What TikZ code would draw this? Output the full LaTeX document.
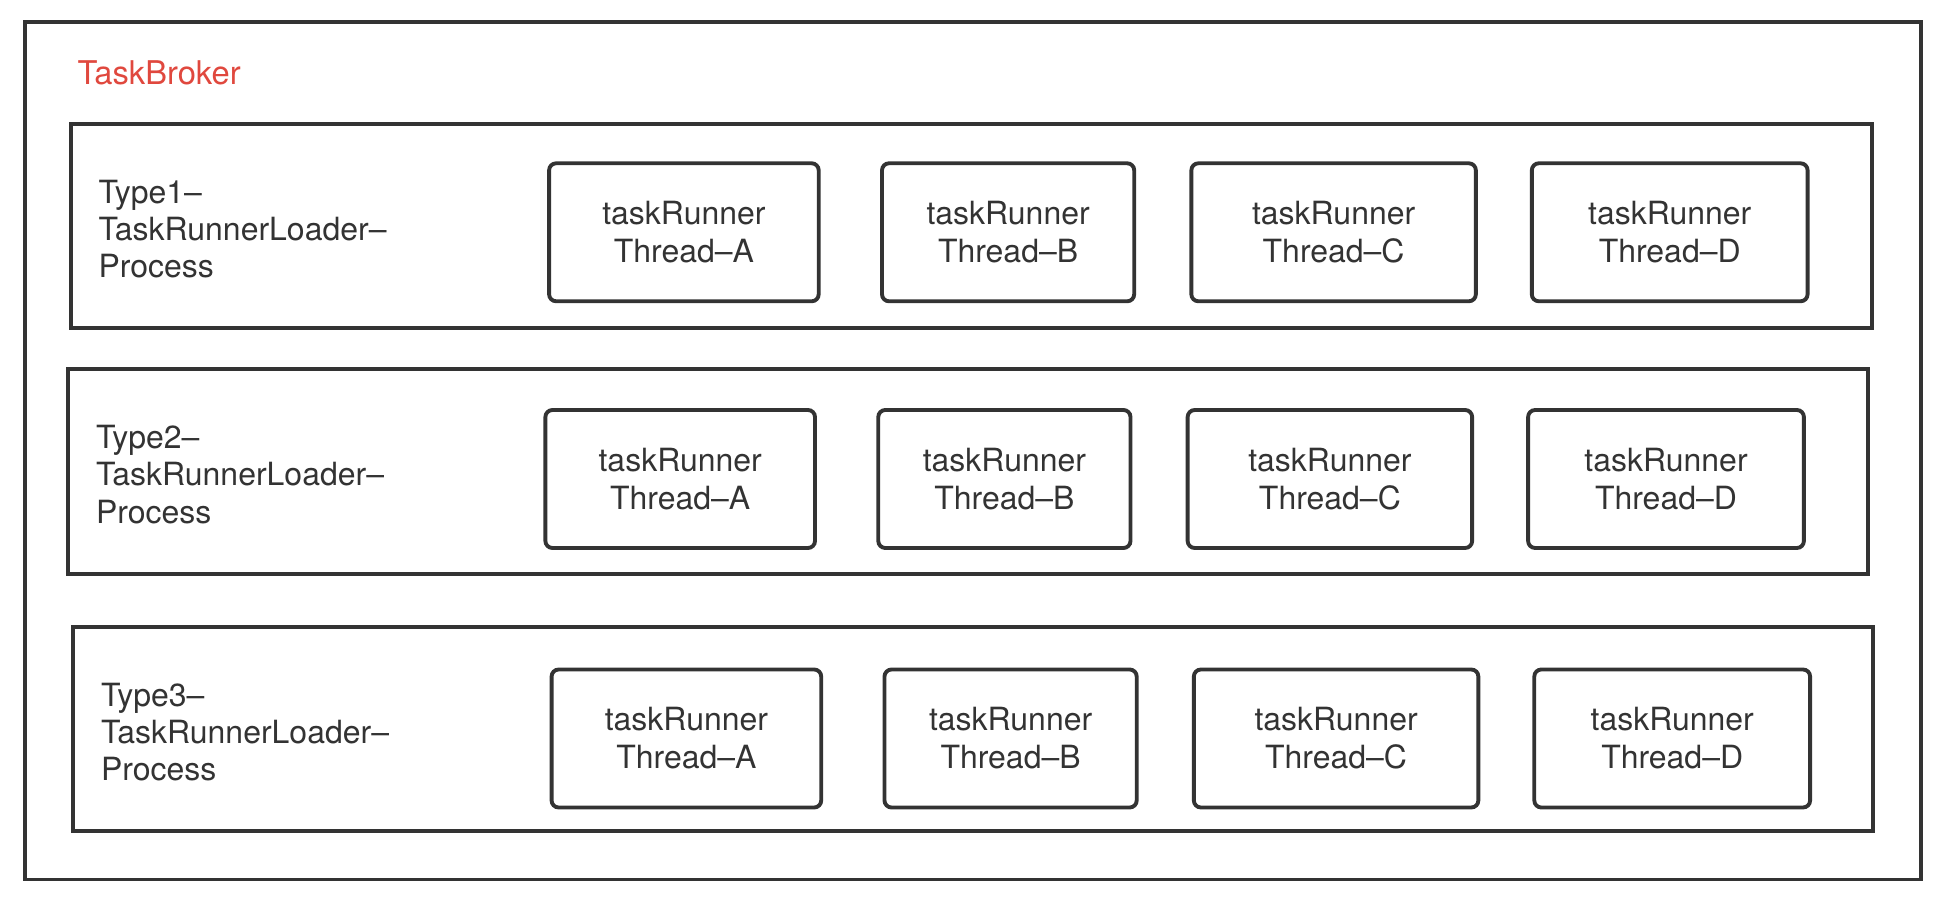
\documentclass[tikz,border=0pt]{standalone}
\usepackage{fontspec}
\setmainfont{TeX Gyre Heros}
\usepackage{tikz}
\usetikzlibrary{positioning,calc}
\definecolor{edge}{HTML}{333333}
\definecolor{brokerred}{HTML}{E0483E}
\tikzset{
  frame/.style={draw=edge, line width=1.1pt},
  runner/.style={draw=edge, line width=1.1pt, rounded corners=2pt, minimum height=1.38cm,
    align=center, inner sep=0pt, text=edge, font=\fontsize{9.1}{10.8}\selectfont},
  typelabel/.style={anchor=west, align=left, inner sep=0pt, text=edge, font=\fontsize{9.1}{10.6}\selectfont}
}
\begin{document}
\begin{tikzpicture}
\useasboundingbox (0,0) rectangle (19.48,9.06);
\draw[frame] (0.25,0.265) rectangle (19.21,8.84);
\node[anchor=west, inner sep=0pt, text=brokerred, font=\fontsize{9.3}{11}\selectfont] (broker) at (0.77,8.33) {TaskBroker};

%\foreach \r in {1,2,3} \draw[frame] (0.7,...) rectangle ++(18,2);
\foreach \r/\xa/\ya/\xb/\yb in {1/0.708/5.78/18.72/7.818, 2/0.683/3.32/18.68/5.37, 3/0.733/0.749/18.73/2.786} {
\draw[frame] (\xa,\ya) rectangle (\xb,\yb);
\node[typelabel] (type\r) at ($(\xa+0.27,{(\ya+\yb)/2-0.03})$) {Type\r–\\TaskRunnerLoader–\\Process};
}

\foreach \r/\y/\dx in {1/6.737/0, 2/4.27/-0.037, 3/1.675/0.025} {
\foreach \t/\x/\w in {A/6.839/2.696, B/10.081/2.522, C/13.336/2.845, D/16.697/2.758}
  \node[runner, minimum width=\w cm] (run\r\t) at ({\x+\dx},\y) {taskRunner\\Thread–\t};
}
\end{tikzpicture}
\end{document}
